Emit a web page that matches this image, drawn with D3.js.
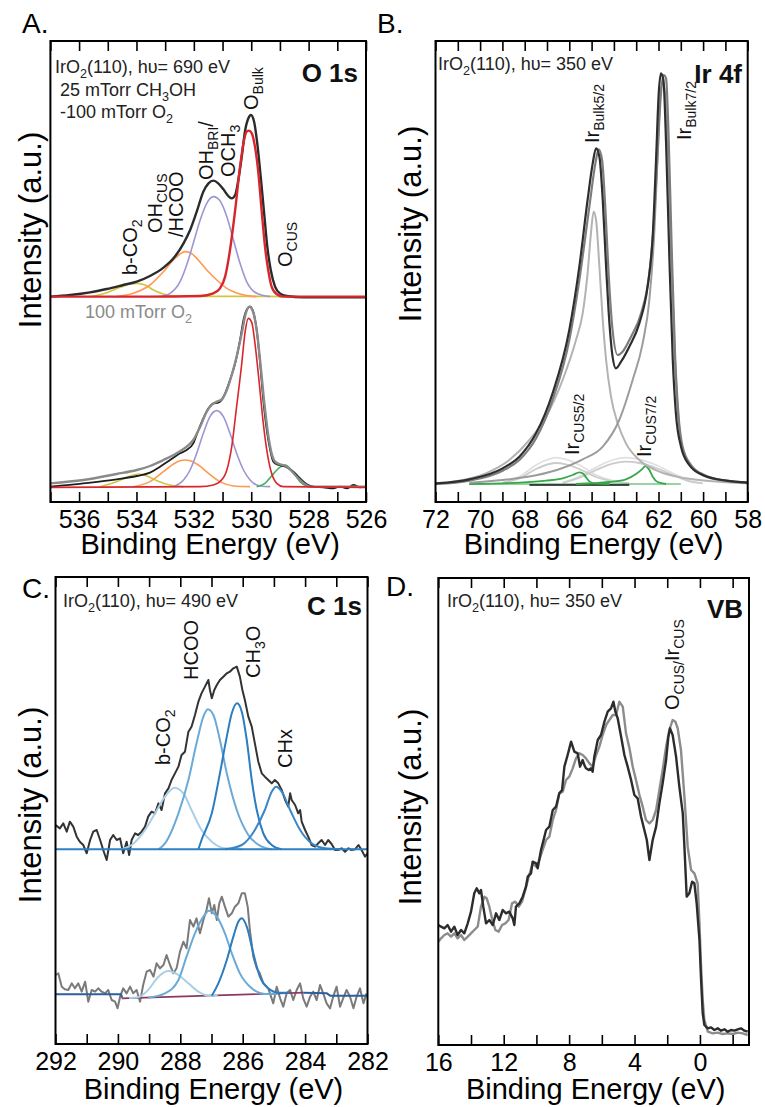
<!DOCTYPE html>
<html>
<head>
<meta charset="utf-8">
<script src="https://cdn.jsdelivr.net/npm/d3@7"></script>
<style>
  body { margin: 0; background: #fff; }
</style>
</head>
<body>
<svg id="fig" width="765" height="1107"></svg>
<script>
const FONT = '"Liberation Sans", Arial, Helvetica, sans-serif';

// ---------- A. O 1s  [binding energy (eV), intensity (a.u.)] ----------
const o1sTicks = [537, 536, 535, 534, 533, 532, 531, 530, 529, 528, 527, 526];
const o1sLabels = [536, 534, 532, 530, 528, 526];

// 25 mTorr CH3OH - 100 mTorr O2
const oTopEnvelope = [[537.01,0],[536.31,5],[535.62,13],[535.04,23],[534.46,35],[533.99,45],[533.53,62],[533.06,87],[532.71,115],[532.36,160],[532.13,200],[531.90,255],[531.67,315],[531.49,340],[531.32,348],[531.15,340],[530.97,322],[530.80,302],[530.68,295],[530.56,305],[530.45,350],[530.33,420],[530.22,495],[530.10,535],[530.01,545],[529.90,525],[529.79,460],[529.67,360],[529.55,250],[529.44,150],[529.32,80],[529.17,30],[529.00,10],[528.76,2],[528.18,-2],[526.0,-2]];
const oTopBulk = [[537.01,0],[533.53,0],[531.78,2],[531.32,10],[531.09,25],[530.91,60],[530.74,140],[530.56,260],[530.39,390],[530.25,470],[530.16,495],[530.08,498],[529.98,490],[529.87,450],[529.75,370],[529.64,260],[529.52,150],[529.40,75],[529.29,30],[529.11,7],[528.88,0],[526.0,0]];
const oTopBri = [[533.18,0],[532.83,10],[532.48,45],[532.25,95],[532.02,160],[531.78,230],[531.55,280],[531.32,300],[531.09,288],[530.85,240],[530.62,170],[530.39,100],[530.16,45],[529.81,10],[529.34,0]];
const oTopHcoo = [[534.69,0],[534.11,10],[533.53,35],[533.06,75],[532.71,110],[532.48,128],[532.31,135],[532.13,132],[531.90,115],[531.55,80],[531.20,50],[530.85,25],[530.39,8],[529.81,0]];
const oTopCo2 = [[535.62,0],[535.04,12],[534.57,28],[534.22,38],[533.99,40],[533.70,35],[533.41,20],[533.06,8],[532.60,2],[531.78,1],[530.5,1],[529.5,1],[528.5,0]];

// 100 mTorr O2
const oBotData = [[537.01,0],[535.85,10],[534.69,22],[533.99,32],[533.53,42],[533.18,60],[532.83,80],[532.48,100],[532.25,110],[532.02,130],[531.84,170],[531.67,205],[531.49,235],[531.32,250],[531.15,252],[531.03,260],[530.91,280],[530.74,320],[530.56,370],[530.39,440],[530.27,500],[530.16,530],[530.04,540],[529.93,525],[529.81,470],[529.69,370],[529.58,260],[529.46,170],[529.34,110],[529.23,75],[529.05,65],[528.88,62],[528.71,55],[528.53,45],[528.36,30],[528.18,15],[528.01,5],[527.84,0],[527.49,-2],[527.14,-5],[526.91,0],[526.67,-5],[526.44,5],[526.21,-2],[526.0,0]];
const oBotEnvelope = [[537.01,10],[535.85,20],[534.69,38],[533.99,50],[533.53,62],[533.06,80],[532.60,100],[532.25,120],[532.02,140],[531.78,180],[531.55,225],[531.38,245],[531.20,255],[531.03,262],[530.85,290],[530.68,335],[530.51,390],[530.33,460],[530.19,520],[530.07,540],[529.95,528],[529.81,470],[529.67,360],[529.53,240],[529.40,150],[529.29,100],[529.17,75],[529.00,67],[528.82,63],[528.65,52],[528.47,35],[528.30,20],[528.13,7],[527.95,0],[526.0,0]];
const oBotBulk = [[537.01,-2],[531.78,0],[531.32,5],[531.09,15],[530.85,50],[530.68,120],[530.51,240],[530.33,370],[530.22,460],[530.10,505],[529.98,492],[529.87,430],[529.72,310],[529.58,190],[529.44,100],[529.29,40],[529.11,10],[528.88,0],[526.0,-2]];
const oBotBri = [[532.71,0],[532.36,20],[532.13,50],[531.90,100],[531.67,160],[531.44,210],[531.20,228],[530.97,210],[530.74,160],[530.51,100],[530.27,50],[530.04,20],[529.69,2],[529.34,0]];
const oBotHcoo = [[534.11,0],[533.53,15],[533.06,45],[532.71,68],[532.48,78],[532.31,80],[532.13,78],[531.84,65],[531.49,40],[531.09,15],[530.62,2],[530.04,0]];
const oBotCo2 = [[535.27,0],[534.69,15],[534.22,32],[533.93,38],[533.64,32],[533.29,18],[532.83,5],[532.36,0]];
const oBotCus = [[529.81,0],[529.52,10],[529.29,32],[529.05,55],[528.82,65],[528.65,55],[528.47,35],[528.30,15],[528.07,2],[527.84,0]];

// ---------- B. Ir 4f ----------
const ir4fTicks = [72, 71, 70, 69, 68, 67, 66, 65, 64, 63, 62, 61, 60, 59, 58];
const ir4fLabels = [72, 70, 68, 66, 64, 62, 60, 58];

const irEnvelopeDark = [[71.98,2],[70.48,14],[68.99,47],[68.24,82],[67.49,152],[66.75,272],[66.00,462],[65.55,652],[65.18,852],[64.95,962],[64.80,1007],[64.65,982],[64.50,852],[64.35,652],[64.20,482],[64.06,382],[63.91,347],[63.68,367],[63.31,412],[62.86,482],[62.49,592],[62.26,742],[62.11,972],[61.99,1172],[61.89,1232],[61.78,1212],[61.66,1022],[61.51,672],[61.36,372],[61.22,212],[60.99,112],[60.62,57],[60.02,27],[58.97,10],[58.0,4]];
const irEnvelopeGray = [[71.98,0],[70.48,10],[68.99,40],[68.24,72],[67.49,137],[66.75,252],[66.00,432],[65.55,612],[65.10,832],[64.83,962],[64.68,1004],[64.53,972],[64.38,822],[64.23,622],[64.06,462],[63.83,387],[63.61,397],[63.23,442],[62.78,512],[62.41,632],[62.19,802],[62.04,992],[61.89,1172],[61.77,1227],[61.66,1217],[61.56,1072],[61.41,712],[61.26,392],[61.11,212],[60.92,112],[60.54,57],[59.94,27],[58.97,10],[58.0,4]];
const irBulk72 = [[70.48,4],[68.99,12],[67.49,26],[66.30,48],[65.40,74],[64.50,112],[63.76,192],[63.16,312],[62.71,422],[62.41,552],[62.19,752],[62.04,982],[61.93,1152],[61.81,1202],[61.69,1162],[61.56,972],[61.41,652],[61.26,372],[61.11,202],[60.92,102],[60.54,52],[59.94,24],[58.97,9],[58.0,4]];
const irBulk52 = [[71.23,7],[69.74,32],[68.69,72],[67.79,132],[67.04,202],[66.30,312],[65.70,432],[65.40,512],[65.18,632],[65.03,752],[64.91,817],[64.80,792],[64.65,652],[64.50,492],[64.35,372],[64.13,262],[63.83,182],[63.46,122],[62.86,72],[61.96,37],[60.77,17],[59.27,7],[58.0,2]];
const irSat52a = [[68.99,4],[68.24,22],[67.49,57],[66.90,75],[66.60,79],[66.15,74],[65.55,57],[64.80,27],[64.06,10],[63.31,2]];
const irSat52b = [[68.99,3],[68.24,17],[67.49,45],[66.90,60],[66.60,63],[66.15,59],[65.55,45],[64.80,21],[64.06,8],[63.31,2]];
const irSat72a = [[66.30,4],[65.55,22],[64.80,50],[64.06,72],[63.46,79],[62.86,74],[62.11,57],[61.36,32],[60.62,10],[60.02,2]];
const irSat72b = [[66.30,3],[65.55,19],[64.80,42],[64.06,61],[63.46,67],[62.86,63],[62.11,48],[61.36,27],[60.62,8],[60.02,2]];
const irCus52 = [[70.48,0],[68.24,4],[67.04,10],[66.30,17],[65.85,27],[65.55,35],[65.40,32],[65.25,20],[65.10,8],[64.88,2],[64.20,0]];
const irCus72 = [[65.70,0],[64.20,6],[63.46,14],[63.01,30],[62.71,46],[62.59,54],[62.41,42],[62.26,22],[62.04,6],[61.66,0]];
const irCusBase = [[70.5,0],[61.0,0]];
const irDarkBase = [[67.79,-3],[63.31,-3]];

// ---------- C. C 1s ----------
const c1sTicks = [292, 291, 290, 289, 288, 287, 286, 285, 284, 283, 282];
const c1sLabels = [292, 290, 288, 286, 284, 282];

const cTopData = [[292.0,73],[291.86,63],[291.75,78],[291.64,53],[291.54,83],[291.43,68],[291.32,38],[291.22,23],[291.11,13],[291.00,-12],[290.89,28],[290.79,53],[290.68,58],[290.57,28],[290.47,-2],[290.36,-32],[290.25,28],[290.15,43],[290.04,28],[289.93,33],[289.83,-12],[289.72,23],[289.64,-17],[289.56,28],[289.45,48],[289.35,43],[289.24,53],[289.13,68],[289.03,98],[288.92,113],[288.81,108],[288.70,138],[288.60,118],[288.49,168],[288.38,183],[288.28,208],[288.17,228],[288.06,248],[287.96,283],[287.85,293],[287.74,353],[287.64,368],[287.53,403],[287.42,443],[287.32,468],[287.21,488],[287.10,508],[287.05,478],[286.99,453],[286.91,478],[286.83,493],[286.73,508],[286.62,518],[286.51,528],[286.41,533],[286.30,543],[286.19,548],[286.09,518],[286.01,478],[285.93,448],[285.82,398],[285.71,368],[285.61,318],[285.50,263],[285.39,228],[285.29,218],[285.18,208],[285.07,198],[284.97,208],[284.86,198],[284.75,178],[284.64,148],[284.54,128],[284.48,168],[284.43,148],[284.32,133],[284.22,108],[284.16,118],[284.11,83],[284.00,58],[283.90,38],[283.79,13],[283.68,8],[283.58,18],[283.47,28],[283.36,13],[283.26,28],[283.15,16],[283.04,-2],[282.94,-2],[282.83,3],[282.72,-7],[282.61,3],[282.51,-2],[282.40,0],[282.29,13],[282.19,-2],[282.08,-22],[282.0,-12]];
const cTopCo2 = [[289.88,0],[289.56,13],[289.13,58],[288.81,108],[288.49,158],[288.19,185],[287.90,168],[287.64,118],[287.32,58],[286.99,23],[286.57,3],[286.0,0]];
const cTopHcoo = [[288.70,0],[288.49,18],[288.06,108],[287.74,208],[287.48,318],[287.26,398],[287.12,420],[286.94,403],[286.73,328],[286.51,228],[286.19,118],[285.82,43],[285.39,8],[285.07,0]];
const cTopCh3o = [[287.42,0],[287.32,28],[286.99,108],[286.73,228],[286.51,338],[286.35,408],[286.18,438],[286.03,413],[285.87,328],[285.71,208],[285.55,118],[285.34,48],[285.07,13],[284.75,0]];
const cTopChx = [[286.57,0],[286.03,13],[285.61,58],[285.29,118],[285.07,173],[284.93,188],[284.75,173],[284.48,118],[284.16,58],[283.79,18],[283.36,3],[282.9,0]];
const cTopBase = [[292.0,0],[282.0,0]];

const cBotData = [[292.0,60],[291.91,65],[291.80,25],[291.70,17],[291.59,15],[291.48,35],[291.38,20],[291.27,35],[291.16,10],[291.05,40],[290.95,-20],[290.84,15],[290.73,10],[290.63,20],[290.52,10],[290.41,5],[290.31,15],[290.20,-15],[290.09,-20],[290.01,-40],[289.93,-5],[289.83,20],[289.72,5],[289.61,25],[289.51,5],[289.40,15],[289.29,-20],[289.19,30],[289.08,70],[288.97,75],[288.86,55],[288.76,95],[288.65,80],[288.54,90],[288.44,120],[288.33,90],[288.22,65],[288.12,80],[288.01,130],[287.90,160],[287.80,140],[287.69,225],[287.58,205],[287.48,230],[287.37,185],[287.26,225],[287.16,255],[287.08,290],[286.99,245],[286.91,270],[286.83,225],[286.75,275],[286.67,295],[286.57,265],[286.46,235],[286.35,245],[286.25,265],[286.14,275],[286.03,305],[285.93,305],[285.84,265],[285.77,195],[285.66,115],[285.55,80],[285.45,65],[285.34,35],[285.18,20],[285.02,-25],[284.91,25],[284.80,-10],[284.70,-35],[284.59,5],[284.48,15],[284.38,-15],[284.27,15],[284.16,35],[284.06,-10],[283.95,-35],[283.84,-5],[283.74,10],[283.63,-15],[283.52,30],[283.42,5],[283.31,-25],[283.20,-40],[283.10,-5],[282.99,25],[282.88,-35],[282.78,-10],[282.67,15],[282.56,-5],[282.45,-40],[282.35,-5],[282.24,20],[282.13,-25],[282.03,5]];
const cBotCo2 = [[289.64,-9],[289.35,-7],[289.03,15],[288.70,55],[288.38,72],[288.06,60],[287.74,35],[287.42,10],[287.10,-2],[286.8,-1]];
const cBotHcoo = [[289.03,-8],[288.49,5],[288.06,45],[287.80,115],[287.53,185],[287.26,235],[287.08,253],[286.83,235],[286.57,185],[286.35,125],[286.09,65],[285.71,20],[285.29,3],[284.9,3]];
const cBotCh3o = [[286.99,-2],[286.78,35],[286.51,105],[286.30,175],[286.14,220],[286.03,230],[285.87,205],[285.66,125],[285.45,55],[285.18,20],[284.86,7],[284.5,7]];
const cBotBgLeft = [[292.0,2],[289.9,2],[289.86,-8]];
const cBotBgFit = [[289.88,-10],[284.06,7]];
const cBotBgRight = [[284.06,7],[283.3,5],[283.2,-2],[282.0,-2]];

// ---------- D. VB ----------
const vbTicks = [16, 14, 12, 10, 8, 6, 4, 2, 0, -2];
const vbLabels = [16, 12, 8, 4, 0];

const vbDark = [[16.0,360],[15.83,355],[15.63,350],[15.43,360],[15.22,340],[15.02,355],[14.82,330],[14.61,345],[14.41,335],[14.20,365],[14.00,400],[13.80,455],[13.65,470],[13.49,455],[13.39,465],[13.25,415],[13.08,365],[12.88,375],[12.67,360],[12.47,395],[12.27,375],[12.06,405],[11.86,395],[11.66,400],[11.45,380],[11.35,360],[11.25,415],[11.04,425],[10.84,445],[10.64,475],[10.53,505],[10.33,515],[10.23,550],[10.02,545],[9.92,530],[9.72,585],[9.51,625],[9.41,645],[9.21,655],[9.00,705],[8.80,715],[8.60,755],[8.43,765],[8.29,835],[8.09,870],[7.88,910],[7.68,880],[7.48,875],[7.33,835],[7.17,855],[7.07,840],[6.97,830],[6.80,825],[6.66,830],[6.56,820],[6.46,865],[6.25,915],[6.05,930],[5.84,970],[5.64,1000],[5.44,1010],[5.29,1030],[5.17,1000],[5.03,980],[4.82,925],[4.62,870],[4.42,835],[4.21,795],[4.01,750],[3.81,740],[3.60,685],[3.40,645],[3.25,615],[3.09,555],[2.89,615],[2.68,655],[2.48,725],[2.28,785],[2.07,855],[1.93,925],[1.83,950],[1.67,930],[1.46,865],[1.26,775],[1.05,695],[0.95,595],[0.81,445],[0.65,455],[0.48,490],[0.34,485],[0.20,425],[0.03,315],[-0.07,195],[-0.17,95],[-0.27,60],[-0.48,50],[-0.68,53],[-0.88,45],[-1.09,50],[-1.29,43],[-1.50,47],[-1.70,40],[-1.90,45],[-2.11,43],[-2.31,47],[-2.51,50],[-2.72,43],[-2.92,40]];
const vbGray = [[16.0,310],[15.83,320],[15.63,330],[15.43,335],[15.22,325],[15.02,335],[14.82,320],[14.61,330],[14.41,315],[14.20,325],[14.00,335],[13.80,345],[13.59,355],[13.39,415],[13.18,445],[13.04,440],[12.88,415],[12.72,380],[12.51,345],[12.31,340],[12.10,360],[11.90,365],[11.70,375],[11.49,425],[11.29,430],[11.08,415],[10.88,430],[10.68,465],[10.47,505],[10.23,545],[10.02,535],[9.82,555],[9.62,585],[9.41,615],[9.21,625],[9.00,675],[8.80,705],[8.60,755],[8.39,760],[8.19,795],[7.99,805],[7.78,830],[7.58,860],[7.37,875],[7.17,870],[6.97,860],[6.76,845],[6.56,835],[6.35,870],[6.15,895],[5.95,930],[5.74,960],[5.54,975],[5.33,990],[5.13,990],[4.93,1030],[4.72,1015],[4.52,935],[4.31,890],[4.11,835],[3.91,795],[3.70,750],[3.50,715],[3.30,675],[3.09,665],[2.89,675],[2.68,705],[2.48,765],[2.28,825],[2.07,895],[1.87,945],[1.67,975],[1.50,970],[1.36,950],[1.16,885],[0.95,745],[0.75,595],[0.54,525],[0.34,515],[0.14,485],[0.03,365],[-0.07,235],[-0.17,135],[-0.27,75],[-0.48,40],[-0.78,35],[-1.09,37],[-1.39,33],[-1.70,35],[-2.01,33],[-2.31,37],[-2.62,35],[-2.92,30]];

// ---------------------------------------------------------------
const svg = d3.select("#fig");
svg.append("rect").attr("width", 765).attr("height", 1107).attr("fill", "#fff");

const smooth = d3.curveMonotoneX;
const raw = d3.curveLinear;

// write text with sub-scripted parts: parts = ["Ir", ["Bulk5/2", "sub"]]
function richText(g, x, y, parts, o) {
  const size = o.size;
  const t = g.append("text")
    .attr("transform", `translate(${x},${y}) rotate(${o.rotate || 0})`)
    .attr("font-family", FONT)
    .attr("font-size", size)
    .attr("font-weight", o.weight || "normal")
    .attr("text-anchor", o.anchor || "start")
    .attr("fill", o.color || "#111");
  let wasSub = false;
  parts.forEach(p => {
    const [s, mode] = Array.isArray(p) ? p : [p, ""];
    const ts = t.append("tspan").text(s);
    if (mode === "sub") {
      ts.attr("font-size", size * 0.7).attr("dy", wasSub ? 0 : size * 0.25);
      wasSub = true;
    } else {
      if (wasSub) ts.attr("dy", -size * 0.25);
      wasSub = false;
    }
  });
  return t;
}

function makePanel(cfg) {
  const g = svg.append("g");
  const [xl, xr] = cfg.x.range();
  const [yb, yt] = cfg.y.range();
  const id = "clip" + cfg.name;
  g.append("clipPath").attr("id", id).append("rect")
    .attr("x", xl).attr("y", yt).attr("width", xr - xl).attr("height", yb - yt);
  const plot = g.append("g").attr("clip-path", `url(#${id})`);

  cfg.lines.forEach(([pts, off, color, w, curve]) => {
    plot.append("path").datum(pts)
      .attr("fill", "none")
      .attr("stroke", color)
      .attr("stroke-width", w)
      .attr("stroke-linejoin", "round")
      .attr("d", d3.line()
        .x(d => cfg.x(d[0]))
        .y(d => cfg.y(d[1] + off))
        .curve(curve || smooth));
  });

  // axes: ticks pointing inward on top and bottom
  const bottom = d3.axisBottom(cfg.x)
    .tickValues(cfg.ticks)
    .tickSizeInner(-10).tickSizeOuter(0).tickPadding(8)
    .tickFormat(d => cfg.labels.includes(d) ? d : "");
  g.append("g").attr("transform", `translate(0,${yb})`).call(bottom)
    .attr("font-family", FONT).attr("font-size", 25)
    .call(s => s.select(".domain").remove())
    .call(s => s.selectAll("line").attr("stroke", "#000").attr("stroke-width", 1.6))
    .call(s => s.selectAll("text").attr("fill", "#000"));
  const top = d3.axisTop(cfg.x).tickValues(cfg.ticks).tickSizeInner(-10).tickSizeOuter(0).tickFormat("");
  g.append("g").attr("transform", `translate(0,${yt})`).call(top)
    .call(s => s.select(".domain").remove())
    .call(s => s.selectAll("line").attr("stroke", "#000").attr("stroke-width", 1.6));

  g.append("rect").attr("x", xl).attr("y", yt).attr("width", xr - xl).attr("height", yb - yt)
    .attr("fill", "none").attr("stroke", "#000").attr("stroke-width", 2);

  g.append("text").attr("x", (xl + xr) / 2 + 2).attr("y", yb + cfg.xTitleGap)
    .attr("text-anchor", "middle").attr("font-family", FONT).attr("font-size", 29)
    .text("Binding Energy (eV)");
  g.append("text")
    .attr("transform", `translate(${cfg.yTitle[0]},${cfg.yTitle[1]}) rotate(-90)`)
    .attr("text-anchor", "middle").attr("font-family", FONT).attr("font-size", 31)
    .text("Intensity (a.u.)");
  g.append("text").attr("x", cfg.letter[0]).attr("y", cfg.letter[1])
    .attr("font-family", FONT).attr("font-size", 28).text(cfg.name + ".");

  cfg.texts.forEach(([x, y, parts, o]) => richText(g, x, y, parts, o));
  return g;
}

const info = { size: 18, color: "#222" };
const peak = { size: 20, rotate: -90, color: "#111" };
const peakIr = { size: 20, rotate: -90, color: "#111" };
const title = { size: 26, weight: "bold", anchor: "end", color: "#111" };

// ---- A ----
makePanel({
  name: "A",
  x: d3.scaleLinear().domain([537, 526]).range([50.4, 366]),
  y: d3.scaleLinear().domain([0, 1383]).range([502, 41]),
  ticks: o1sTicks, labels: o1sLabels, xTitleGap: 52,
  yTitle: [41, 230], letter: [22, 33],
  lines: [
    [oTopCo2, 616, "#d2c53f", 1.6], [oTopHcoo, 616, "#ff9a52", 1.6], [oTopBri, 616, "#9a97d2", 1.6],
    [oTopEnvelope, 616, "#2b2b2b", 2.4], [oTopBulk, 616, "#d9262c", 2.4],
    [oBotCo2, 46, "#d2c53f", 1.6], [oBotHcoo, 46, "#ff9a52", 1.6], [oBotBri, 46, "#9a97d2", 1.6],
    [oBotCus, 46, "#3fb35a", 1.6], [oBotData, 46, "#1e1e1e", 1.8], [oBotEnvelope, 46, "#8a8a8a", 2.4],
    [oBotBulk, 46, "#d9262c", 1.6]
  ],
  texts: [
    [55, 73, ["IrO", ["2", "sub"], "(110), h\u03c5= 690 eV"], info],
    [60, 96, ["25 mTorr CH", ["3", "sub"], "OH"], info],
    [60, 118, ["-100 mTorr O", ["2", "sub"]], info],
    [358, 82, ["O 1s"], title],
    [85, 318, ["100 mTorr O", ["2", "sub"]], { size: 18, color: "#8a8a8a" }],
    [258, 110, ["O", ["Bulk", "sub"]], peak],
    [213, 180, ["OH", ["BRI", "sub"], "/"], peak],
    [235, 177, ["OCH", ["3", "sub"]], peak],
    [162, 233, ["OH", ["CUS", "sub"]], peak],
    [183, 237, ["/HCOO"], peak],
    [137, 275, ["b-CO", ["2", "sub"]], peak],
    [292, 267, ["O", ["CUS", "sub"]], peak]
  ]
});

// ---- B ----
makePanel({
  name: "B",
  x: d3.scaleLinear().domain([72, 58]).range([435.5, 747.7]),
  y: d3.scaleLinear().domain([0, 1383]).range([502, 41]),
  ticks: ir4fTicks, labels: ir4fLabels, xTitleGap: 52,
  yTitle: [421, 224], letter: [377, 33],
  lines: [
    [irSat52a, 54, "#e0e0e0", 1.8], [irSat72a, 54, "#e0e0e0", 1.8],
    [irSat52b, 54, "#cbcbcb", 1.8], [irSat72b, 54, "#cbcbcb", 1.8],
    [irCusBase, 54, "#35a84a", 1.2], [irDarkBase, 54, "#111", 1.5],
    [irCus52, 54, "#35a84a", 1.8], [irCus72, 54, "#35a84a", 1.8],
    [irBulk52, 54, "#b3b3b3", 2], [irBulk72, 54, "#9c9c9c", 2],
    [irEnvelopeGray, 54, "#7d7d7d", 2.2], [irEnvelopeDark, 54, "#2e2e2e", 2.2]
  ],
  texts: [
    [438, 70, ["IrO", ["2", "sub"], "(110), h\u03c5= 350 eV"], info],
    [742, 83, ["Ir 4f"], title],
    [599, 143, ["Ir", ["Bulk5/2", "sub"]], peakIr],
    [691, 140, ["Ir", ["Bulk7/2", "sub"]], peakIr],
    [579, 455, ["Ir", ["CUS5/2", "sub"]], peakIr],
    [651, 457, ["Ir", ["CUS7/2", "sub"]], peakIr]
  ]
});

// ---- C ----
makePanel({
  name: "C",
  x: d3.scaleLinear().domain([292, 282]).range([55.5, 367.5]),
  y: d3.scaleLinear().domain([0, 1401]).range([1044, 577]),
  ticks: c1sTicks, labels: c1sLabels, xTitleGap: 55,
  yTitle: [41, 805], letter: [22, 598],
  lines: [
    [cTopData, 584, "#333", 2, raw],
    [cTopCo2, 584, "#a9cfe6", 2], [cTopHcoo, 584, "#6aaad8", 2], [cTopCh3o, 584, "#2b7cc0", 2],
    [cTopChx, 584, "#3a86c8", 2], [cTopBase, 584, "#2f7fc1", 2],
    [cBotData, 147, "#7a7a7a", 2, raw],
    [cBotBgFit, 147, "#8a3a5e", 1.6, raw],
    [cBotBgLeft, 147, "#2d5fa0", 2, raw], [cBotBgRight, 147, "#2d5fa0", 2, raw],
    [cBotCo2, 147, "#a9cfe6", 2], [cBotHcoo, 147, "#6aaad8", 2], [cBotCh3o, 147, "#2b7cc0", 2]
  ],
  texts: [
    [63, 607, ["IrO", ["2", "sub"], "(110), h\u03c5= 490 eV"], info],
    [362, 615, ["C 1s"], title],
    [170, 765, ["b-CO", ["2", "sub"]], peak],
    [198, 680, ["HCOO"], peak],
    [260, 678, ["CH", ["3", "sub"], "O"], peak],
    [292, 768, ["CHx"], peak]
  ]
});

// ---- D ----
makePanel({
  name: "D",
  x: d3.scaleLinear().domain([16, -3]).range([438.3, 749]),
  y: d3.scaleLinear().domain([0, 1401]).range([1045, 578]),
  ticks: vbTicks, labels: vbLabels, xTitleGap: 54,
  yTitle: [421, 807], letter: [386, 596],
  lines: [
    [vbGray, 0, "#8c8c8c", 2.4, raw],
    [vbDark, 0, "#2c2c2c", 2.4, raw]
  ],
  texts: [
    [447, 607, ["IrO", ["2", "sub"], "(110), h\u03c5= 350 eV"], info],
    [743, 618, ["VB"], title],
    [679, 710, ["O", ["CUS/", "sub"], "Ir", ["CUS", "sub"]], peak]
  ]
});
</script>
</body>
</html>
